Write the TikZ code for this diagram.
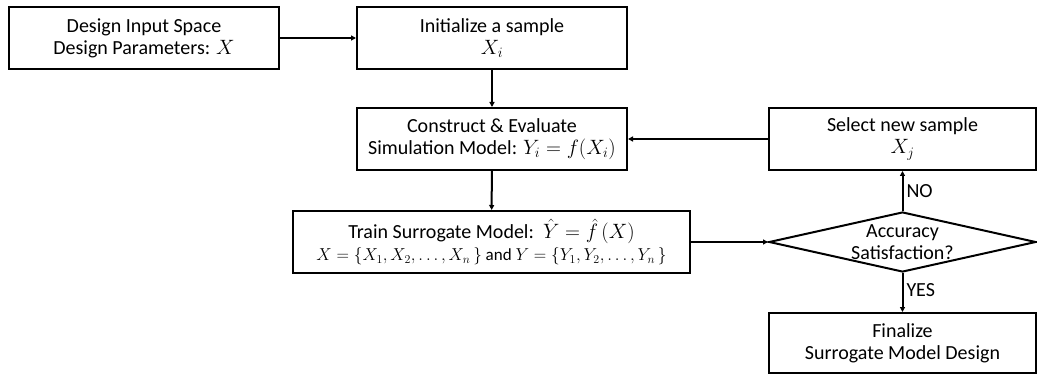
\documentclass[tikz,border=0pt]{standalone}
\usepackage{fontspec}
\setmainfont{Carlito}
\usetikzlibrary{shapes.geometric,arrows.meta}
\begin{document}
\begin{tikzpicture}[x=1pt,y=-1pt,
  box/.style={draw,line width=2pt,rectangle,inner sep=0pt,align=center,minimum height=62pt,font=\fontsize{20}{22}\selectfont},
  conn/.style={line width=2pt,-{Triangle[length=5pt,width=5pt]}},
  lbl/.style={font=\fontsize{20}{22}\selectfont,inner sep=0pt,anchor=west}]
\useasboundingbox[fill=white] (0,0) rectangle (1037,377);
\node[box,minimum width=270pt] (b1) at (144,38) {Design Input Space\\Design Parameters: $X$};
\node[box,minimum width=270pt] (b2) at (492,38) {Initialize a sample\\$X_i$};
\node[box,minimum width=270pt] (b3) at (492,139) {Construct \& Evaluate\\Simulation Model: $Y_i=f(X_i)$};
\node[box,minimum width=397pt] (b4) at (491.5,242) {Train Surrogate Model:\ \ $\hat{Y}=\hat{f}\,(X)$\\[0pt]{\fontsize{17}{20}\selectfont$X=\{X_1,X_2,\ldots,X_n\,\}$ and $Y=\{Y_1,Y_2,\ldots,Y_n\,\}$}};
\node[box,minimum width=267pt] (b5) at (902.5,139) {Select new sample\\$X_j$};
\node[draw,line width=2pt,diamond,minimum width=267pt,minimum height=60pt,inner sep=0pt] (dia) at (902.5,242) {};
\node[align=center,font=\fontsize{20}{22}\selectfont,inner sep=0pt] (diat) at (dia) {Accuracy\\Satisfaction?};
\node[box,minimum width=267pt,minimum height=60pt] (b6) at (902.5,343) {Finalize\\Surrogate Model Design};
\draw[conn] (b1) -- (b2);
\draw[conn] (b2) -- (b3);
\draw[conn] (b3) -- (b4);
\draw[conn] (b5) -- (b3);
\draw[conn] (b4) -- (dia);
\draw[conn] (dia) -- node[lbl,pos=0.5,xshift=3pt] {NO} (b5);
\draw[conn] (dia) -- node[lbl,pos=0.45,xshift=3pt] {YES} (b6);
\end{tikzpicture}
\end{document}
